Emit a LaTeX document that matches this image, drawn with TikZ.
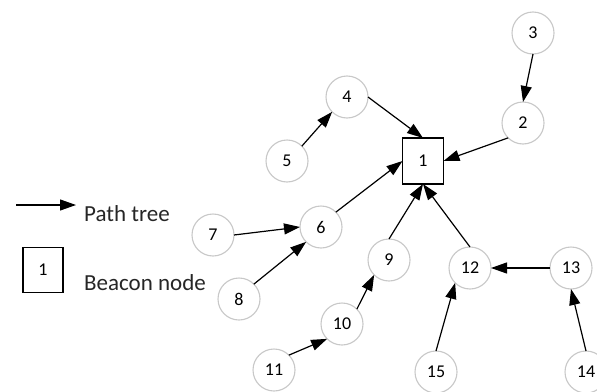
\documentclass[tikz,border=0pt]{standalone}
\usepackage{fontspec}
\setmainfont{Carlito}
\usetikzlibrary{arrows.meta}
\definecolor{ringgray}{RGB}{200,200,200}
\tikzset{
  sensor/.style={circle, draw=ringgray, line width=1.1pt, minimum size=42pt, inner sep=0pt, outer sep=0pt, fill=white,
    font=\fontsize{18}{20}\selectfont},
  beacon/.style={rectangle, draw=black, line width=1.1pt, minimum width=41pt, minimum height=46pt, inner sep=0pt, outer sep=0pt,
    font=\fontsize{18}{20}\selectfont},
  link/.style={line width=1.2pt, -{Triangle[length=16pt,width=11pt]}},
  legendtext/.style={anchor=base west, inner sep=0pt, font=\fontsize{23}{26}\selectfont, text=black!85}
}
\begin{document}
\begin{tikzpicture}[x=1pt, y=-1pt]
\useasboundingbox (0,0) rectangle (597,391);

% beacon
\node[beacon] (n1) at (423,161) {1};

% sensor nodes
\node[sensor] (n2)  at (523,123) {2};
\node[sensor] (n3)  at (533,33)  {3};
\node[sensor] (n4)  at (347,97)  {4};
\node[sensor] (n5)  at (287,161) {5};
\node[sensor] (n6)  at (321,227) {6};
\node[sensor] (n7)  at (213,235) {7};
\node[sensor] (n8)  at (239,299) {8};
\node[sensor] (n9)  at (389,260) {9};
\node[sensor] (n10) at (342,324) {10};
\node[sensor] (n11) at (274,370) {11};
\node[sensor] (n12) at (470,268) {12};
\node[sensor] (n13) at (571,268) {13};
\node[sensor] (n14) at (586,372) {14};
\node[sensor] (n15) at (436,372) {15};

% path tree, attached at the connection sites of each shape
\draw[link] (n3.south) -- (n2.north);
\draw[link] (n2.south west) -- (n1.east);
\draw[link] (n4.east) -- (n1.north);
\draw[link] (n5.north east) -- (n4.south west);
\draw[link] (n6.north east) -- (n1.west);
\draw[link] (n7.east) -- (n6.west);
\draw[link] (n8.north east) -- (n6.south west);
\draw[link] (n9.north) -- (n1.south);
\draw[link] (n10.north east) -- (n9.south west);
\draw[link] (n11.north east) -- (n10.south west);
\draw[link] (n12.north) -- (n1.south);
\draw[link] (n13.west) -- (n12.east);
\draw[link] (n14.north) -- (n13.south);
\draw[link] (n15.north) -- (n12.south west);

% legend
\coordinate (lgA) at (16,205);
\coordinate (lgB) at (76,205);
\draw[link] (lgA) -- (lgB);
\node[legendtext] (lgT1) at (84,221) {Path tree};
\node[beacon, minimum width=40pt, minimum height=45pt] (lgBox) at (43,270) {1};
\node[legendtext] (lgT2) at (84,290) {Beacon node};
\end{tikzpicture}
\end{document}
